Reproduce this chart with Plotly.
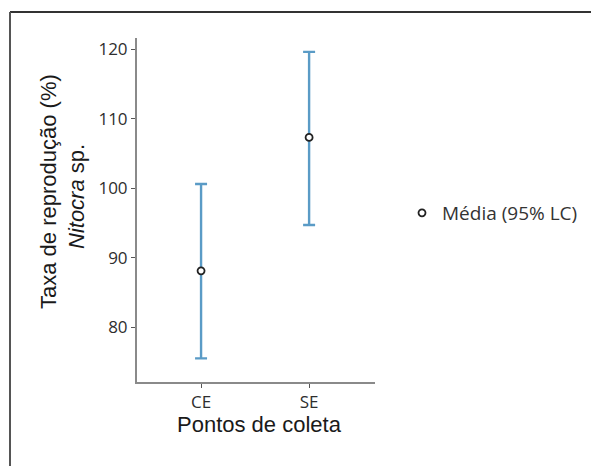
import plotly.graph_objects as go

# Reproduction rate by sampling point: mean with 95% confidence limits
sites = ["CE", "SE"]
mean_rate = [88.1, 107.3]
upper_ci = [100.6, 119.6]
lower_ci = [75.5, 94.7]

err_plus = [u - m for u, m in zip(upper_ci, mean_rate)]
err_minus = [m - l for m, l in zip(mean_rate, lower_ci)]

W, H = 591, 466
L, R, T, B = 137, 216, 38, 84
pw, ph = W - L - R, H - T - B


def px(x):
    return (x - L) / pw


def py(y):
    return (H - B - y) / ph


fig = go.Figure()
fig.add_trace(go.Scatter(
    x=sites, y=mean_rate, mode="markers", name="Média (95% LC)",
    marker=dict(symbol="circle", size=7, color="white",
                line=dict(color="#222222", width=1.8)),
    error_y=dict(type="data", symmetric=False, array=err_plus,
                 arrayminus=err_minus, color="#5a9bc6", thickness=2.4, width=6),
))

font_tick = dict(family="Open Sans", size=17, color="#2e2e2e")

fig.update_layout(
    width=W, height=H,
    margin=dict(l=L, r=R, t=T, b=B, autoexpand=False),
    paper_bgcolor="white", plot_bgcolor="white",
    showlegend=True,
    legend=dict(x=px(402), y=py(213), xanchor="left", yanchor="middle",
                font=dict(family="Open Sans", size=19, color="#333333"),
                itemwidth=30, bgcolor="rgba(0,0,0,0)"),
    xaxis=dict(range=[-0.593, 1.61], showgrid=False, zeroline=False,
               showline=True, linecolor="#8a8a8a", linewidth=2,
               ticks="outside", ticklen=4, tickcolor="#555555",
               tickfont=font_tick, mirror=False),
    yaxis=dict(range=[72.1, 121.6], showgrid=False, zeroline=False,
               tickvals=[80, 90, 100, 110, 120],
               showline=True, linecolor="#8a8a8a", linewidth=2,
               ticks="outside", ticklen=4, tickcolor="#555555",
               tickfont=font_tick),
)

# Axis titles
title_font = dict(family="Liberation Sans", size=22, color="#1a1a1a")
fig.add_annotation(text="Taxa de reprodução (%)", x=px(48), y=py(192),
                   xref="paper", yref="paper", textangle=-90, showarrow=False,
                   xanchor="center", yanchor="middle", font=title_font)
fig.add_annotation(text="<i>Nitocra</i> sp.", x=px(76), y=py(197),
                   xref="paper", yref="paper", textangle=-90, showarrow=False,
                   xanchor="center", yanchor="middle", font=title_font)
fig.add_annotation(text="Pontos de coleta", x=px(259), y=py(424),
                   xref="paper", yref="paper", showarrow=False,
                   xanchor="center", yanchor="middle", font=title_font)

# Frame lines along top and left edges
fig.add_shape(type="line", xref="paper", yref="paper",
              x0=px(10), x1=px(W + 2), y0=py(12), y1=py(12),
              line=dict(color="#333333", width=2))
fig.add_shape(type="line", xref="paper", yref="paper",
              x0=px(10), x1=px(10), y0=py(12), y1=py(H + 2),
              line=dict(color="#555555", width=2))

fig.write_html("out.html")
